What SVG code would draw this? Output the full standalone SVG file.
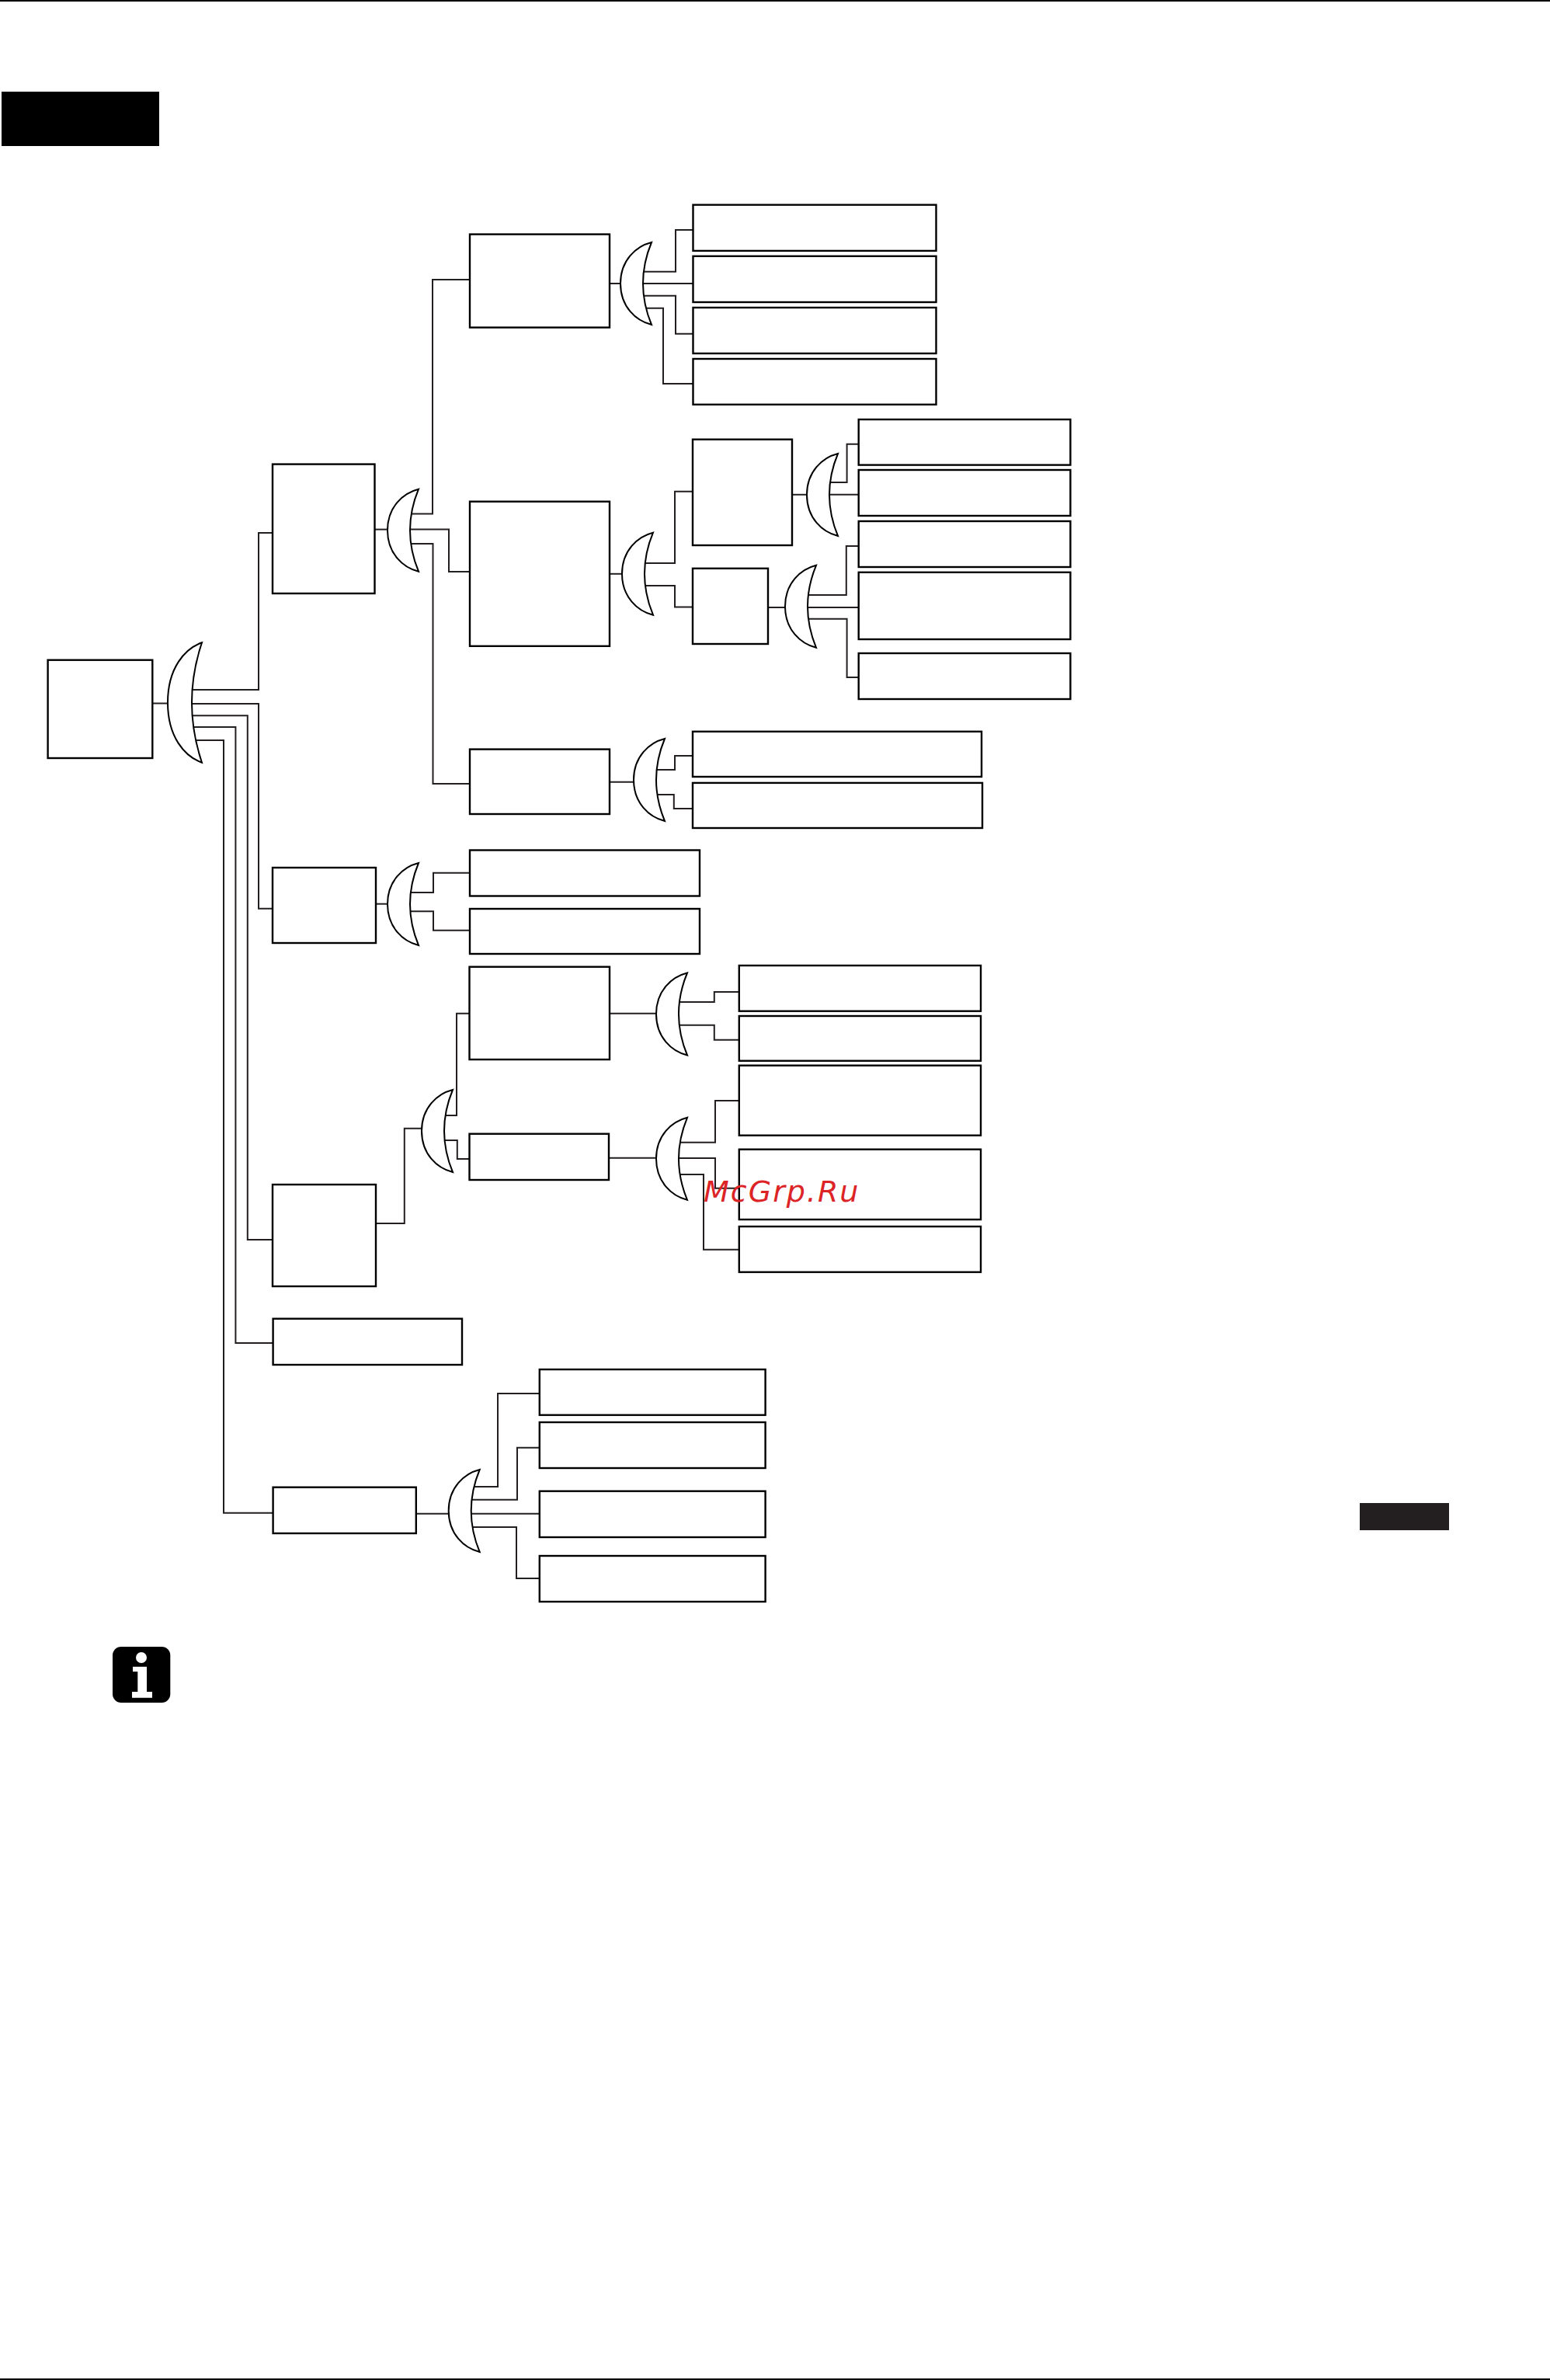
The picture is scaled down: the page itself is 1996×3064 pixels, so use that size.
<svg xmlns="http://www.w3.org/2000/svg" width="1996" height="3064" viewBox="0 0 1996 3064">
<style>
.b{fill:#fff;stroke:#000;stroke-width:2.4}
.g{fill:#fff;stroke:#000;stroke-width:2;stroke-linejoin:miter}
.c{fill:none;stroke:#231f20;stroke-width:2}
.k{fill:#000}
</style>
<defs>
<path id="gate" class="g" d="M0,-53 C-20,-48 -40,-30 -40,0 C-40,30 -20,48 0,53 Q-22,0 0,-53Z"/>
</defs>
<rect width="1996" height="3064" fill="#fff"/>
<rect class="k" x="0" y="0" width="1996" height="2"/>
<rect class="k" x="0" y="3062" width="1996" height="2"/>
<rect class="k" x="2" y="118" width="203" height="70"/>
<rect x="1751" y="1935" width="115" height="35" fill="#231f20"/>
<g id="connectors">
<path class="c" d="M196,905.5H220"/>
<path class="c" d="M247,888H333V686H351"/>
<path class="c" d="M247,906H333V1169.7H351"/>
<path class="c" d="M247,921.3H318.8V1596H351"/>
<path class="c" d="M247,936H303.4V1729H351.6"/>
<path class="c" d="M247,953H288V1947.7H351.6"/>
<path class="c" d="M484,1163.7H505"/>
<path class="c" d="M525,1149H558V1123.7H605"/>
<path class="c" d="M525,1173.3H558V1197.7H605"/>
<path class="c" d="M482,681.6H505"/>
<path class="c" d="M525,661.6H557V360H605"/>
<path class="c" d="M525,681.6H578V736H605"/>
<path class="c" d="M525,700H557.5V1009H605"/>
<path class="c" d="M785,365H805"/>
<path class="c" d="M825,349.8H870V296H892"/>
<path class="c" d="M825,365H892"/>
<path class="c" d="M825,380.8H870V429.8H892"/>
<path class="c" d="M825,396.7H854V493.9H892"/>
<path class="c" d="M785,738.8H806"/>
<path class="c" d="M826,724.9H869V632.7H892"/>
<path class="c" d="M826,753.9H869V781.6H892"/>
<path class="c" d="M1020,636.8H1045"/>
<path class="c" d="M1065,621H1090.6V571.8H1105.7"/>
<path class="c" d="M1065,636.8H1105.7"/>
<path class="c" d="M989,782H1017"/>
<path class="c" d="M1037,766H1089.8V703H1105.7"/>
<path class="c" d="M1037,782H1105.7"/>
<path class="c" d="M1037,796.8H1090.6V872H1105.7"/>
<path class="c" d="M785,1006.8H822"/>
<path class="c" d="M842,991H869V973H892"/>
<path class="c" d="M842,1022.9H867.8V1041H892"/>
<path class="c" d="M484,1575H520.8V1452.7H548"/>
<path class="c" d="M568,1436H588V1304.7H604.5"/>
<path class="c" d="M568,1468H588.8V1492H604.5"/>
<path class="c" d="M785,1304.7H850"/>
<path class="c" d="M870,1290H919.8V1277H951.8"/>
<path class="c" d="M870,1319.7H919.8V1338.7H951.8"/>
<path class="c" d="M784,1490.7H850"/>
<path class="c" d="M870,1470.7H921V1417H951.8"/>
<path class="c" d="M870,1491H921V1529.7H951.8"/>
<path class="c" d="M870,1512H906V1608.7H951.8"/>
<path class="c" d="M535.8,1948.7H584"/>
<path class="c" d="M604,1914H641V1794H694.8"/>
<path class="c" d="M604,1930.7H666V1863.7H694.8"/>
<path class="c" d="M604,1948.7H694.8"/>
<path class="c" d="M604,1966H665V2032H694.8"/>
</g>
<g id="node-root"><rect class="b" x="61.6" y="849.7" width="134.7" height="126.3"/></g>
<g id="gate-root"><path class="g" d="M260,827.3 C238,835 216,860 216,904.5 C216,949 238,974 260,981.7 Q234,904.5 260,827.3Z"/></g>
<g id="node-a"><rect class="b" x="351" y="597.6" width="131.5" height="166.4"/></g>
<g id="gate-a"><use href="#gate" x="539" y="682.7"/></g>
<g id="node-b"><rect class="b" x="351" y="1117" width="133" height="97"/></g>
<g id="gate-b"><use href="#gate" x="539" y="1164"/></g>
<g id="node-b1"><rect class="b" x="605" y="1094.5" width="296" height="59"/></g>
<g id="node-b2"><rect class="b" x="605" y="1170" width="296" height="58"/></g>
<g id="node-a1"><rect class="b" x="605" y="301.6" width="180" height="120"/></g>
<g id="gate-a1"><use href="#gate" x="839" y="365"/></g>
<g id="node-a1a"><rect class="b" x="892.5" y="263.7" width="313" height="59.2"/></g>
<g id="node-a1b"><rect class="b" x="892.5" y="329.8" width="313" height="59.2"/></g>
<g id="node-a1c"><rect class="b" x="892.5" y="396" width="313" height="59"/></g>
<g id="node-a1d"><rect class="b" x="892.5" y="462" width="313" height="58.8"/></g>
<g id="node-a2"><rect class="b" x="605" y="645.7" width="180" height="186.1"/></g>
<g id="gate-a2"><use href="#gate" x="841" y="738.7"/></g>
<g id="node-d1"><rect class="b" x="892" y="565.7" width="128" height="136.3"/></g>
<g id="gate-d1"><use href="#gate" x="1079" y="637"/></g>
<g id="node-d1a"><rect class="b" x="1105.7" y="540" width="272.7" height="58.6"/></g>
<g id="node-d1b"><rect class="b" x="1105.7" y="605" width="272.7" height="59"/></g>
<g id="node-d2"><rect class="b" x="892" y="731.8" width="97" height="97.2"/></g>
<g id="gate-d2"><use href="#gate" x="1051" y="780.8"/></g>
<g id="node-d2a"><rect class="b" x="1105.7" y="671" width="272.7" height="59"/></g>
<g id="node-d2b"><rect class="b" x="1105.7" y="736.8" width="272.7" height="86.2"/></g>
<g id="node-d2c"><rect class="b" x="1105.7" y="841" width="272.7" height="59"/></g>
<g id="node-a3"><rect class="b" x="605" y="964.6" width="180" height="83.4"/></g>
<g id="gate-a3"><use href="#gate" x="856" y="1004"/></g>
<g id="node-a3a"><rect class="b" x="892" y="941.8" width="372" height="58.2"/></g>
<g id="node-a3b"><rect class="b" x="892" y="1007.9" width="373" height="58.1"/></g>
<g id="node-k"><rect class="b" x="351" y="1525" width="133" height="131"/></g>
<g id="gate-k"><use href="#gate" x="583" y="1456"/></g>
<g id="node-g1"><rect class="b" x="604.5" y="1244.7" width="180.5" height="119.3"/></g>
<g id="gate-g1"><use href="#gate" x="885" y="1305.5"/></g>
<g id="node-g1a"><rect class="b" x="951.8" y="1243" width="311.2" height="58.7"/></g>
<g id="node-g1b"><rect class="b" x="951.8" y="1308" width="311.2" height="57.7"/></g>
<g id="node-g2"><rect class="b" x="604.5" y="1459.7" width="179.5" height="59.3"/></g>
<g id="gate-g2"><use href="#gate" x="885" y="1491.8"/></g>
<g id="node-g2a"><rect class="b" x="951.8" y="1371.7" width="311.2" height="90"/></g>
<g id="node-g2b"><rect class="b" x="951.8" y="1479.7" width="311.2" height="90.3"/></g>
<g id="node-g2c"><rect class="b" x="951.8" y="1579" width="311.2" height="58.7"/></g>
<g id="node-l"><rect class="b" x="351.6" y="1697.7" width="243.4" height="59.3"/></g>
<g id="node-m"><rect class="b" x="351.6" y="1914.7" width="184.2" height="59.3"/></g>
<g id="gate-m"><use href="#gate" x="617.7" y="1945"/></g>
<g id="node-m1"><rect class="b" x="694.8" y="1763" width="290.8" height="58.7"/></g>
<g id="node-m2"><rect class="b" x="694.8" y="1831" width="290.8" height="59"/></g>
<g id="node-m3"><rect class="b" x="694.8" y="1919.7" width="290.8" height="59.3"/></g>
<g id="node-m4"><rect class="b" x="694.8" y="2003" width="290.8" height="59"/></g>
<g id="info-icon">
<rect class="k" x="145" y="2120" width="74.3" height="72" rx="11"/>
<circle cx="182" cy="2134" r="7" fill="#fff"/>
<path fill="#fff" d="M171,2145.7H189V2178H196V2185.7H170V2178H177.3V2152H171Z"/>
</g>
<text x="906" y="1546.7" font-family="'DejaVu Sans',sans-serif" font-style="italic" font-size="38" letter-spacing="2" fill="#dc2426">McGrp.Ru</text>
</svg>
